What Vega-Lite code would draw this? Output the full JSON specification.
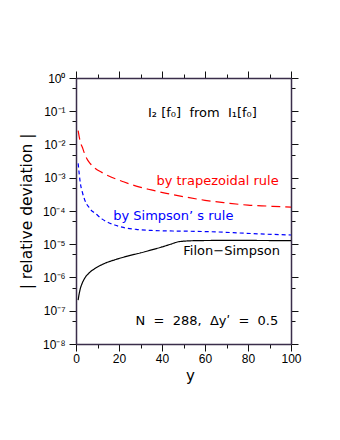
{
  "$schema": "https://vega.github.io/schema/vega-lite/v6.json",
  "width": 215,
  "height": 266,
  "autosize": {"type": "none"},
  "padding": {"left": 76, "top": 78, "right": 49, "bottom": 96},
  "background": "white",
  "config": {
    "view": {"stroke": null},
    "axis": {
      "labelFont": "Liberation Sans",
      "titleFont": "DejaVu Sans",
      "domainColor": "#3a2d4a",
      "domainWidth": 1.5,
      "tickColor": "#111111",
      "tickWidth": 1,
      "grid": false,
      "labelColor": "black",
      "titleColor": "black",
      "titleFontWeight": "normal",
      "labelFontSize": 12,
      "labelOverlap": false,
      "labelFlush": false
    }
  },
  "datasets": {
    "curves": [
      {"series": "trapezoidal", "y": 1, "deviation": 0.026},
      {"series": "trapezoidal", "y": 1.5, "deviation": 0.017},
      {"series": "trapezoidal", "y": 2, "deviation": 0.0118},
      {"series": "trapezoidal", "y": 3, "deviation": 0.0081},
      {"series": "trapezoidal", "y": 4, "deviation": 0.0053},
      {"series": "trapezoidal", "y": 5, "deviation": 0.0038},
      {"series": "trapezoidal", "y": 6, "deviation": 0.003},
      {"series": "trapezoidal", "y": 7, "deviation": 0.0025},
      {"series": "trapezoidal", "y": 9, "deviation": 0.0019},
      {"series": "trapezoidal", "y": 12, "deviation": 0.00145},
      {"series": "trapezoidal", "y": 15, "deviation": 0.00115},
      {"series": "trapezoidal", "y": 18, "deviation": 0.00095},
      {"series": "trapezoidal", "y": 22, "deviation": 0.00076},
      {"series": "trapezoidal", "y": 28, "deviation": 0.00056},
      {"series": "trapezoidal", "y": 35, "deviation": 0.00043},
      {"series": "trapezoidal", "y": 42, "deviation": 0.00034},
      {"series": "trapezoidal", "y": 50, "deviation": 0.00027},
      {"series": "trapezoidal", "y": 60, "deviation": 0.00021},
      {"series": "trapezoidal", "y": 70, "deviation": 0.000175},
      {"series": "trapezoidal", "y": 80, "deviation": 0.00015},
      {"series": "trapezoidal", "y": 90, "deviation": 0.00014},
      {"series": "trapezoidal", "y": 100, "deviation": 0.00013},
      {"series": "Simpson", "y": 1, "deviation": 0.0027},
      {"series": "Simpson", "y": 1.5, "deviation": 0.0013},
      {"series": "Simpson", "y": 2, "deviation": 0.0007},
      {"series": "Simpson", "y": 3, "deviation": 0.00036},
      {"series": "Simpson", "y": 4, "deviation": 0.00022},
      {"series": "Simpson", "y": 5, "deviation": 0.00016},
      {"series": "Simpson", "y": 6, "deviation": 0.00013},
      {"series": "Simpson", "y": 7, "deviation": 0.000107},
      {"series": "Simpson", "y": 9, "deviation": 0.000085},
      {"series": "Simpson", "y": 12, "deviation": 0.000058},
      {"series": "Simpson", "y": 15, "deviation": 0.000045},
      {"series": "Simpson", "y": 18, "deviation": 0.000038},
      {"series": "Simpson", "y": 22, "deviation": 0.000032},
      {"series": "Simpson", "y": 28, "deviation": 0.000028},
      {"series": "Simpson", "y": 35, "deviation": 0.000026},
      {"series": "Simpson", "y": 45, "deviation": 0.000025},
      {"series": "Simpson", "y": 55, "deviation": 0.0000245},
      {"series": "Simpson", "y": 65, "deviation": 0.0000235},
      {"series": "Simpson", "y": 75, "deviation": 0.000022},
      {"series": "Simpson", "y": 85, "deviation": 0.0000205},
      {"series": "Simpson", "y": 100, "deviation": 0.000019},
      {"series": "Filon-Simpson", "y": 1, "deviation": 2.1e-7},
      {"series": "Filon-Simpson", "y": 1.5, "deviation": 3.3e-7},
      {"series": "Filon-Simpson", "y": 2, "deviation": 4.6e-7},
      {"series": "Filon-Simpson", "y": 3, "deviation": 7e-7},
      {"series": "Filon-Simpson", "y": 4, "deviation": 9.4e-7},
      {"series": "Filon-Simpson", "y": 6, "deviation": 1.35e-6},
      {"series": "Filon-Simpson", "y": 9, "deviation": 1.9e-6},
      {"series": "Filon-Simpson", "y": 13, "deviation": 2.6e-6},
      {"series": "Filon-Simpson", "y": 18, "deviation": 3.4e-6},
      {"series": "Filon-Simpson", "y": 24, "deviation": 4.4e-6},
      {"series": "Filon-Simpson", "y": 30, "deviation": 5.5e-6},
      {"series": "Filon-Simpson", "y": 36, "deviation": 7e-6},
      {"series": "Filon-Simpson", "y": 40, "deviation": 8.3e-6},
      {"series": "Filon-Simpson", "y": 44, "deviation": 1e-5},
      {"series": "Filon-Simpson", "y": 48, "deviation": 1.2e-5},
      {"series": "Filon-Simpson", "y": 55, "deviation": 1.28e-5},
      {"series": "Filon-Simpson", "y": 65, "deviation": 1.3e-5},
      {"series": "Filon-Simpson", "y": 80, "deviation": 1.3e-5},
      {"series": "Filon-Simpson", "y": 100, "deviation": 1.28e-5}
    ],
    "notes": [
      {"series": "note", "y": 33.5, "deviation": 0.09, "label": "I₂\u00a0[f₀]\u00a0\u00a0from\u00a0\u00a0I₁[f₀]"},
      {"series": "trapezoidal", "y": 37.4, "deviation": 0.00082, "label": "by trapezoidal rule"},
      {"series": "Simpson", "y": 17.3, "deviation": 0.000071, "label": "by Simpson’\u00a0s rule"},
      {"series": "Filon-Simpson", "y": 49.9, "deviation": 6.3e-6, "label": "Filon−Simpson"},
      {"series": "note", "y": 27.7, "deviation": 5e-8, "label": "N\u00a0\u00a0=\u00a0\u00a0288,\u00a0\u00a0Δyʹ\u00a0\u00a0=\u00a0\u00a00.5"}
    ]
  },
  "layer": [
    {
      "data": {"name": "curves"},
      "mark": {"type": "line", "strokeWidth": 1.2, "interpolate": "monotone", "clip": true},
      "encoding": {
        "x": {
          "field": "y", "type": "quantitative",
          "scale": {"domain": [0, 100], "nice": false},
          "axis": {
            "orient": "bottom",
            "values": [0, 10, 20, 30, 40, 50, 60, 70, 80, 90, 100],
            "labelExpr": "datum.value % 20 == 0 ? datum.label : ''",
            "tickSize": {"condition": {"test": "datum.value % 20 == 0", "value": 7}, "value": 4},
            "labelPadding": 2,
            "title": "y",
            "titleFontSize": 15,
            "titlePadding": 4,
            "titleX": 114
          }
        },
        "y": {
          "field": "deviation", "type": "quantitative",
          "scale": {"type": "log", "domain": [1e-8, 1], "nice": false},
          "axis": {
            "orient": "left",
            "values": [1, 0.5, 0.1, 0.05, 0.01, 0.005, 0.001, 0.0005, 0.0001, 0.00005, 0.00001, 0.000005, 0.000001, 5e-7, 1e-7, 5e-8, 1e-8],
            "labelExpr": "abs(log(datum.value)/LN10 - round(log(datum.value)/LN10)) < 0.01 ? '10' + ['⁰','⁻¹','⁻²','⁻³','⁻⁴','⁻⁵','⁻⁶','⁻⁷','⁻⁸'][round(-log(datum.value)/LN10)] : ''",
            "tickSize": {"condition": {"test": "abs(log(datum.value)/LN10 - round(log(datum.value)/LN10)) < 0.01", "value": 7}, "value": 4},
            "labelPadding": 4,
            "title": "| relative deviation |",
            "titleFontSize": 15.5,
            "titlePadding": 8
          }
        },
        "color": {
          "field": "series", "type": "nominal",
          "scale": {"domain": ["trapezoidal", "Simpson", "Filon-Simpson", "note"], "range": ["#ff0000", "#0000ff", "#000000", "#000000"]},
          "legend": null
        },
        "strokeDash": {
          "field": "series", "type": "nominal",
          "scale": {"domain": ["trapezoidal", "Simpson", "Filon-Simpson"], "range": [[9, 5], [4, 3], [1, 0]]},
          "legend": null
        }
      }
    },
    {
      "data": {"name": "notes"},
      "mark": {"type": "text", "align": "left", "baseline": "middle", "font": "DejaVu Sans", "fontSize": 13},
      "encoding": {
        "x": {
          "field": "y", "type": "quantitative",
          "axis": {
            "orient": "top",
            "values": [0, 10, 20, 30, 40, 50, 60, 70, 80, 90, 100],
            "labels": false,
            "tickSize": {"condition": {"test": "datum.value % 20 == 0", "value": 7}, "value": 4},
            "title": null
          }
        },
        "y": {
          "field": "deviation", "type": "quantitative",
          "axis": {
            "orient": "right",
            "values": [1, 0.5, 0.1, 0.05, 0.01, 0.005, 0.001, 0.0005, 0.0001, 0.00005, 0.00001, 0.000005, 0.000001, 5e-7, 1e-7, 5e-8, 1e-8],
            "labels": false,
            "tickSize": {"condition": {"test": "abs(log(datum.value)/LN10 - round(log(datum.value)/LN10)) < 0.01", "value": 7}, "value": 4},
            "title": null
          }
        },
        "text": {"field": "label", "type": "nominal"},
        "color": {"field": "series", "type": "nominal", "legend": null}
      }
    }
  ],
  "resolve": {"axis": {"x": "independent", "y": "independent"}}
}
